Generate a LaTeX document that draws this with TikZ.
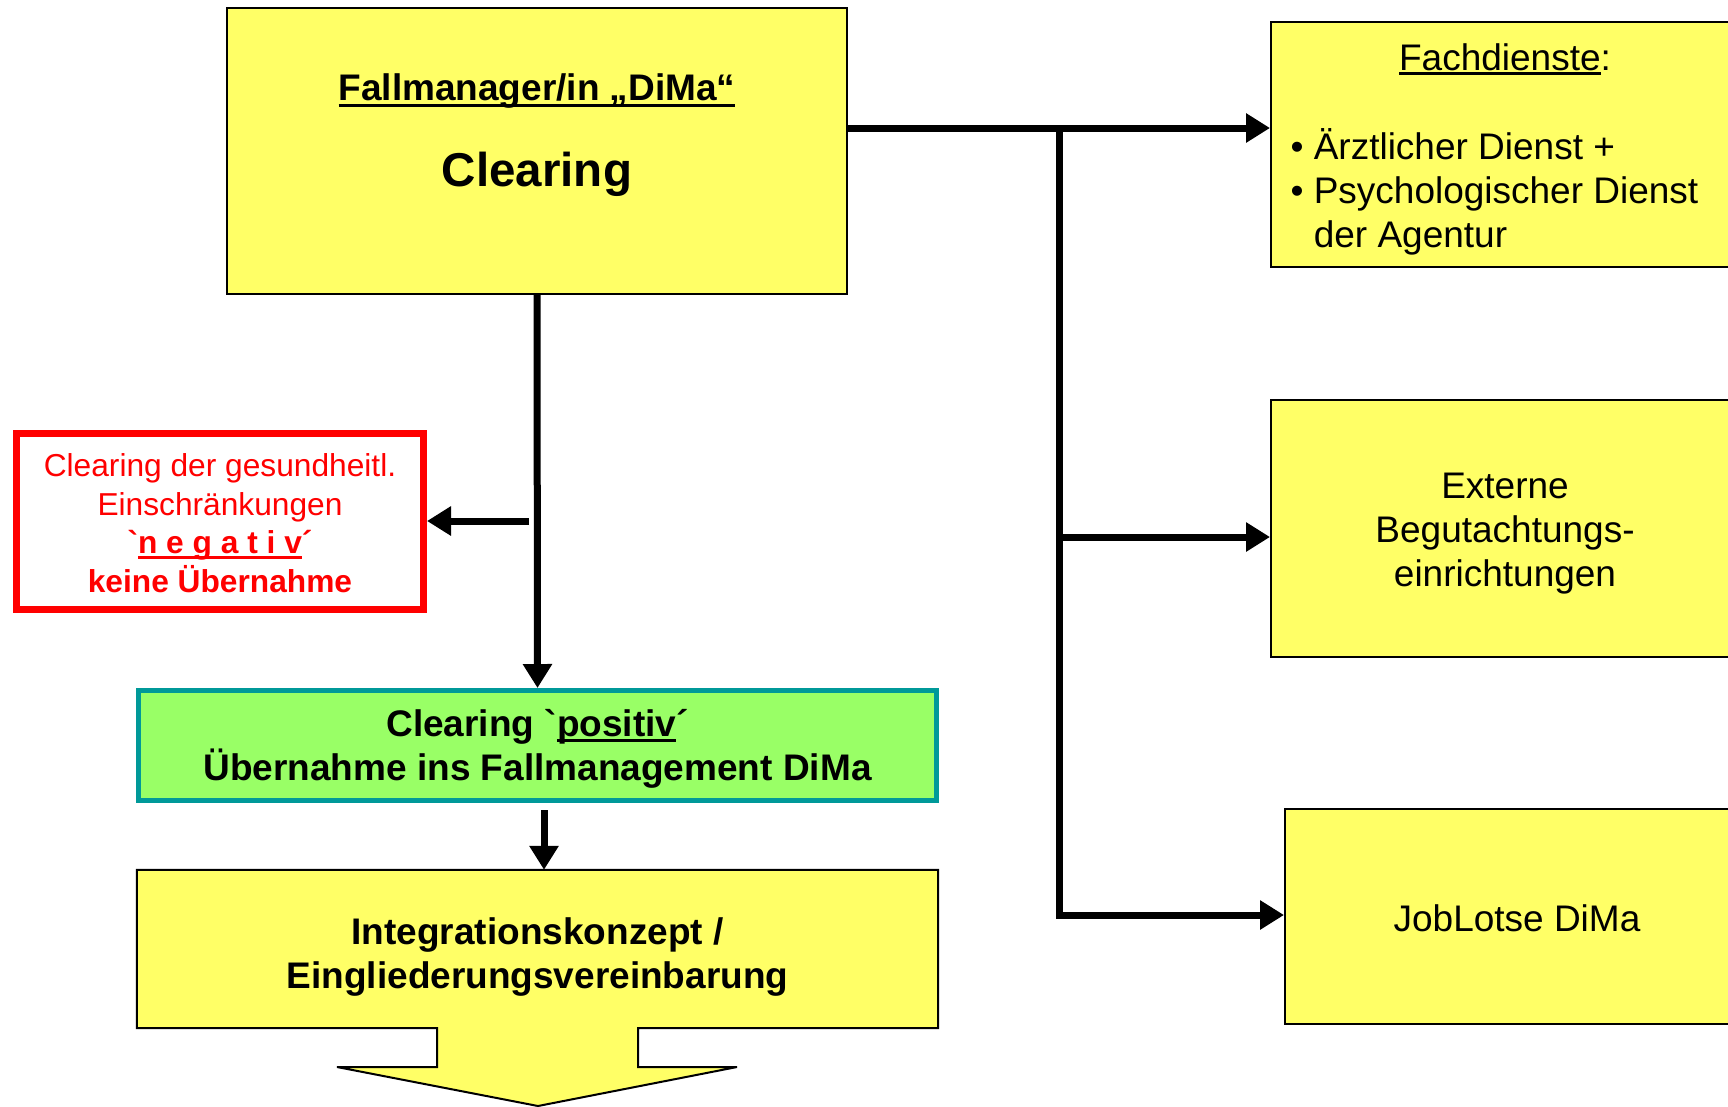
\documentclass[tikz,border=0pt]{standalone}
\usepackage{fontspec}
\setmainfont{Liberation Sans}[Ligatures=TeXOff]
\usetikzlibrary{arrows.meta}
\definecolor{boxyellow}{HTML}{FFFF66}
\definecolor{boxgreen}{HTML}{99FF66}
\definecolor{boxteal}{HTML}{009999}
\definecolor{boxred}{HTML}{FF0000}
\newcommand\myul[2][-6pt]{\setbox0\hbox{#2}\rlap{\rule[#1]{\wd0}{3pt}}\box0}
\tikzset{
  ybox/.style={draw=black, line width=2pt, fill=boxyellow, inner sep=0pt},
  arr/.style={line width=7pt, -{Triangle[length=24pt,width=28pt]}},
  bigbold/.style={font=\fontsize{37}{44}\selectfont\bfseries, align=center},
  bigreg/.style={font=\fontsize{37}{44}\selectfont, align=center},
}
\begin{document}
\begin{tikzpicture}[x=1pt,y=-1pt]
\useasboundingbox (0,0) rectangle (1728,1106);
\fill[white] (0,0) rectangle (1728,1106);
\clip (0,0) rectangle (1728,1106);

% top box
\node[ybox, minimum width=620, minimum height=286] (top) at (537,151) {};
\node[font=\fontsize{37}{44}\selectfont\bfseries] (t1) at (537,91.5) {\myul{Fallmanager/in „DiMa“}};
\node[font=\fontsize{47.5}{56}\selectfont\bfseries] (t2) at (537,174.5) {Clearing};

% right boxes
\node[ybox, minimum width=469, minimum height=245] (fach) at (1505.5,144.5) {};
\node[bigreg] (fachh) at (1505,59.5) {\myul[-5pt]{Fachdienste}:};
\node[bigreg, anchor=west, align=left] (fachl) at (1287,192) {• Ärztlicher Dienst +\\• Psychologischer Dienst\\\phantom{• }der Agentur};

\node[ybox, minimum width=469, minimum height=257] (ext) at (1505.5,528.5) {};
\node[bigreg] (extt) at (1505,534) {Externe\\Begutachtungs-\\einrichtungen};
\node[ybox, minimum width=455, minimum height=215] (job) at (1512.5,916.5) {};
\node[bigreg] (jobt) at (1517,918) {JobLotse DiMa};

% red box
\node[draw=boxred, line width=7pt, fill=white, minimum width=407, minimum height=176, inner sep=0pt] (red) at (220,521.5) {};
\node[text=boxred, align=center, font=\fontsize{31.7}{38.5}\selectfont] (redt) at (220,523)
  {Clearing der gesundheitl.\\Einschränkungen\\{\bfseries`\myul[-5pt]{n e g a t i v}´}\\{\bfseries keine Übernahme}};

% green box
\node[draw=boxteal, line width=5pt, fill=boxgreen, minimum width=798, minimum height=110, inner sep=0pt] (green) at (537.5,745.5) {};
\node[bigbold] (greent) at (537.5,749) {Clearing `\myul[-5pt]{positiv}´\\Übernahme ins Fallmanagement DiMa};

% bottom box with block arrow
\node[minimum width=801, minimum height=158, inner sep=0pt] (integ) at (537.5,949) {};
\draw[line width=2pt, fill=boxyellow, line join=miter]
  (integ.north west) -- (integ.north east) -- (integ.south east) -- (638,1028) -- (638,1067)
  -- (737,1067) -- (538,1106) -- (337,1067) -- (437,1067) -- (437,1028) -- (integ.south west) -- cycle;
\node[bigbold] (integt) at (537.5,956.5) {Integrationskonzept /\\Eingliederungsvereinbarung};

% connectors
\coordinate (j1) at (1059,128);
\coordinate (j2) at (1059,537);
\coordinate (j3) at (1059,915);
\coordinate (r0) at (529,521);
\coordinate (g0) at (544,810);

\draw[arr] (top.east |- j1) -- (fach.west |- j1);
\draw[line width=7pt, line join=miter, -{Triangle[length=24pt,width=28pt]}] (j1) -- (j3) -- (job.west |- j3);
\draw[arr] (j2) -- (ext.west |- j2);
\draw[arr] (top.south) -- (green.north);
\draw[arr] (r0) -- (red.east |- r0);
\draw[arr] (g0) -- (integ.north -| g0);
\end{tikzpicture}
\end{document}
